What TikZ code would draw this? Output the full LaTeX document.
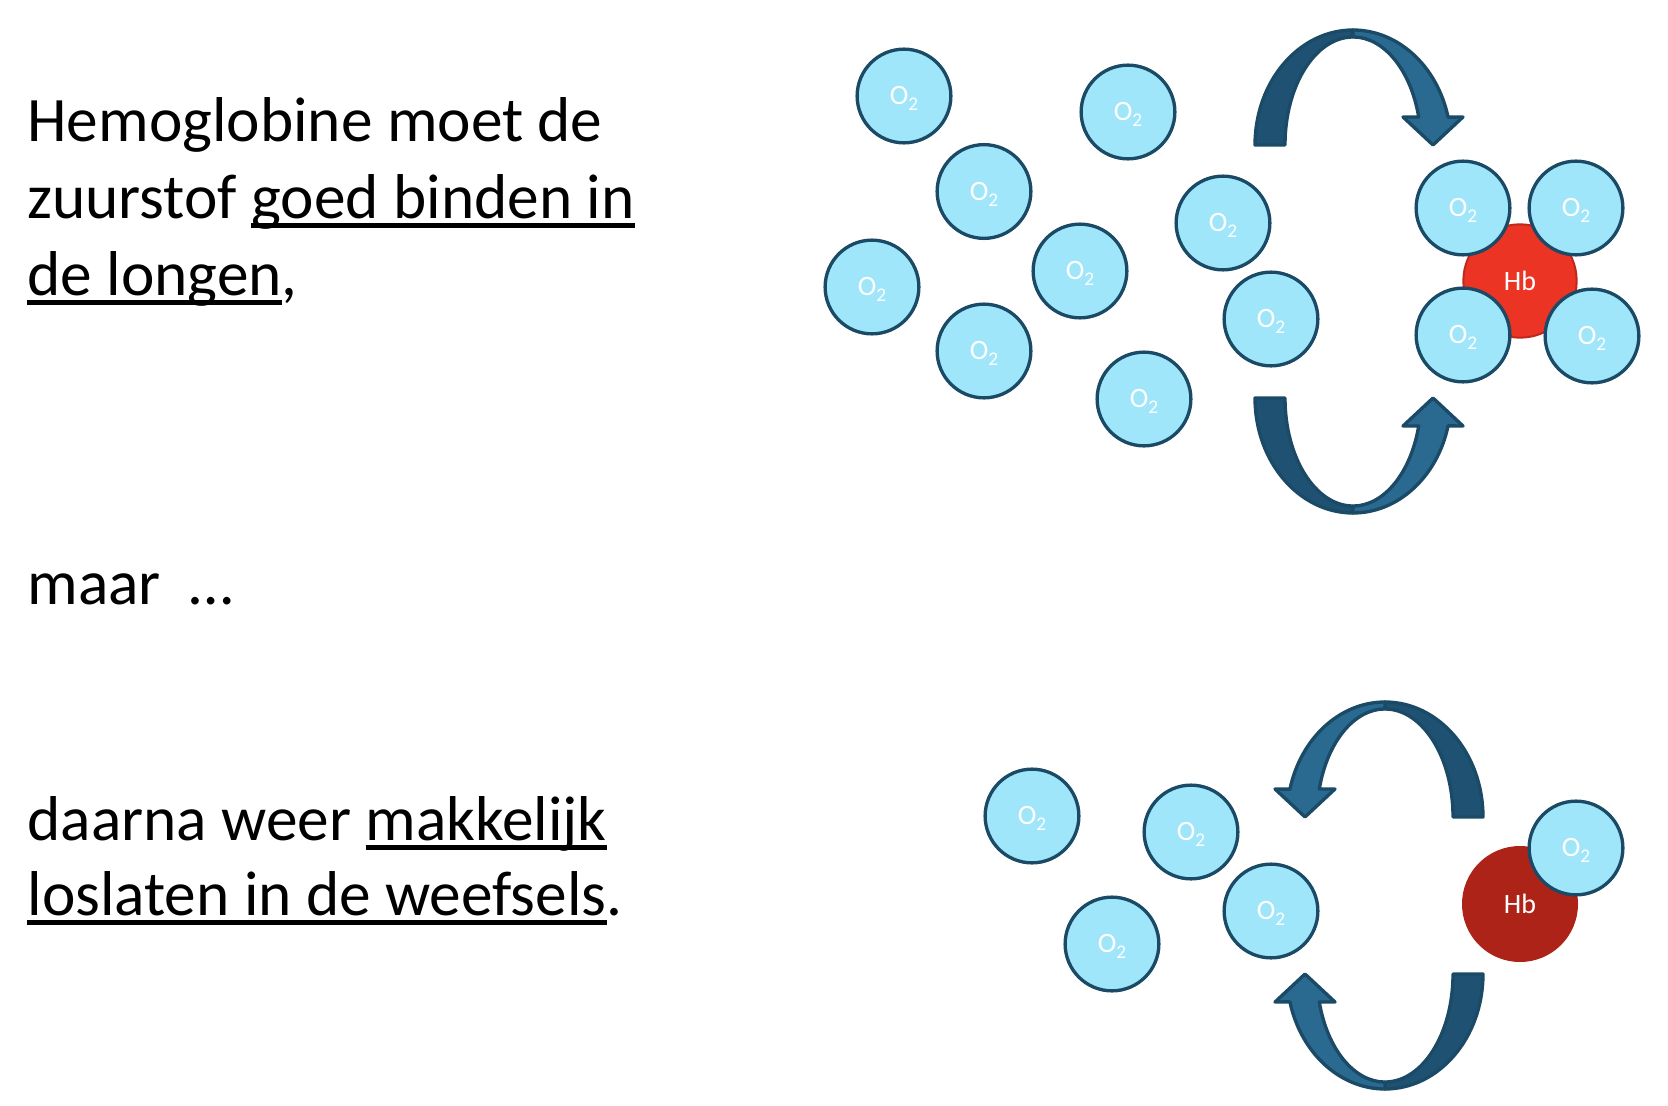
\documentclass[tikz,border=0pt]{standalone}
\usepackage{fontspec}
\setmainfont{Carlito}

\definecolor{lichtblauw}{RGB}{160,230,250}
\definecolor{randblauw}{RGB}{27,74,102}
\definecolor{pijldonker}{RGB}{31,82,114}
\definecolor{pijllicht}{RGB}{42,105,144}
\definecolor{hbrood}{RGB}{236,52,36}
\definecolor{hbrand}{RGB}{190,40,30}
\definecolor{hbdonker}{RGB}{173,35,24}

\newsavebox\lijnbox
\newcommand{\onderlijn}[1]{\sbox\lijnbox{#1}\rlap{\rule[-7.5pt]{\wd\lijnbox}{3.5pt}}\usebox\lijnbox}
\newcommand{\otwee}{O\raisebox{-4.5pt}[0pt][0pt]{\fontsize{14.5}{15}\selectfont 2}}

\tikzset{every picture/.style={line width=0.75pt}}
\tikzset{
  zuurstof/.style={circle, draw=randblauw, fill=lichtblauw, line width=2.5pt, minimum size=70.3pt, inner sep=0pt, text=white, font=\fontsize{21}{22}\selectfont},
  hemo/.style={circle, fill=hbrood, draw=hbrand, line width=1.5pt, minimum size=85pt, inner sep=0pt, text=white, font=\fontsize{21}{22}\selectfont},
  pijlrug/.style={fill=pijldonker, draw=randblauw, line width=2.5pt, line join=round},
  pijlvoor/.style={fill=pijllicht, draw=randblauw, line width=2.5pt, line join=round},
  regel/.style={anchor=base west, inner sep=0pt, font=\fontsize{47.5}{58}\selectfont}
}

% curved arrow, local origin under the top of the arch
\newcommand{\boogpijl}[1]{%
\begin{scope}[#1]
\filldraw [pijlrug] (-98,0) arc[start angle=180, end angle=270, x radius=98, y radius=115] -- (0,-108) arc[start angle=270, end angle=180, x radius=68, y radius=108] -- cycle ;
\filldraw [pijlvoor] (0,-115) arc[start angle=270, end angle=346, x radius=98, y radius=115] -- (110,-28) -- (80,0) -- (50,-28) -- (65.7,-28) arc[start angle=345, end angle=270, x radius=68, y radius=108] -- cycle ;
\end{scope}}

\begin{document}
\begin{tikzpicture}[x=0.75pt,y=0.75pt,yscale=-1,xscale=1]
\path (0,0) rectangle (1668,1106); %set diagram size

% Text Node
\draw (27,141.5) node [regel] (regel1) {Hemoglobine moet de};
% Text Node
\draw (27,218) node [regel] (regel2) {zuurstof \onderlijn{goed binden in}};
% Text Node
\draw (27,295) node [regel] (regel3) {\onderlijn{de longen},};
% Text Node
\draw (27,604) node [regel] (regel4) {maar~~…};
% Text Node
\draw (27,840) node [regel] (regel5) {daarna weer \onderlijn{makkelijk}};
% Text Node
\draw (27,915) node [regel] (regel6) {\onderlijn{loslaten in de weefsels}.};

%Curved Arrows (lungs)
\boogpijl{shift={(1353,145)}}
\boogpijl{shift={(1353,398)},yscale=-1}

%Curved Arrows (tissues)
\boogpijl{shift={(1385,817)},xscale=-1}
\boogpijl{shift={(1385,974)},xscale=-1,yscale=-1}

%Free oxygen (lungs)
\draw (904,96) node [zuurstof] (ox1) {\otwee};
\draw (1128,112) node [zuurstof] (ox2) {\otwee};
\draw (984,191.5) node [zuurstof] (ox3) {\otwee};
\draw (872,287) node [zuurstof] (ox4) {\otwee};
\draw (1080,271) node [zuurstof] (ox5) {\otwee};
\draw (984,351) node [zuurstof] (ox6) {\otwee};
\draw (1144,399) node [zuurstof] (ox7) {\otwee};
\draw (1223,223) node [zuurstof] (ox8) {\otwee};
\draw (1271,319) node [zuurstof] (ox9) {\otwee};

%Hb with four oxygen
\draw (1520,281) node [hemo] (hbA) {Hb};
\draw (1463,208) node [zuurstof] (hbAo1) {\otwee};
\draw (1576,208) node [zuurstof] (hbAo2) {\otwee};
\draw (1463,335) node [zuurstof] (hbAo3) {\otwee};
\draw (1592,336) node [zuurstof] (hbAo4) {\otwee};

%Free oxygen (tissues)
\draw (1032,816) node [zuurstof] (ox10) {\otwee};
\draw (1191,832) node [zuurstof] (ox11) {\otwee};
\draw (1271,911) node [zuurstof] (ox12) {\otwee};
\draw (1112,944) node [zuurstof] (ox13) {\otwee};

%Hb with one oxygen
\draw (1520,904) node [hemo, fill=hbdonker, draw=none, minimum size=87pt] (hbB) {Hb};
\draw (1576,848) node [zuurstof] (hbBo1) {\otwee};

\end{tikzpicture}
\end{document}
